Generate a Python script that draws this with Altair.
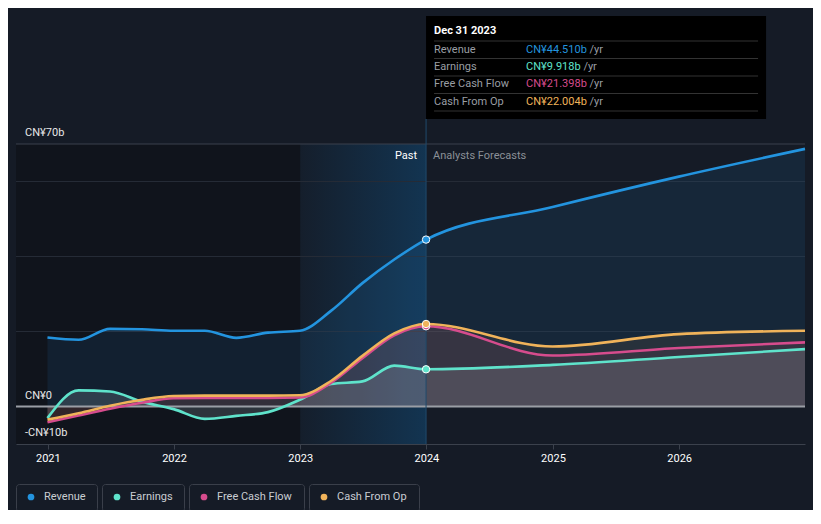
import altair as alt
import pandas as pd

# ---------------- data ----------------
DATES = ["2020-12-31", "2021-03-31", "2021-06-30", "2021-09-30", "2021-12-31",
         "2022-03-31", "2022-06-30", "2022-09-30", "2022-12-31", "2023-03-31",
         "2023-06-30", "2023-09-30", "2023-12-31", "2024-12-31", "2025-12-31",
         "2026-12-31"]
REVENUE = [18.4, 17.8, 20.7, 20.6, 20.2, 20.2, 18.3, 19.7, 20.2, 25.5, 32.9, 39.2,
           44.51, 53.2, 61.3, 68.7]
EARNINGS = [-3.1, 4.3, 4.0, 1.3, -0.7, -3.3, -2.5, -1.5, 1.8, 6.0, 6.7, 10.9,
            9.918, 11.1, 13.2, 15.3]
FCF = [-4.2, -2.4, -0.6, 1.0, 2.2, 2.3, 2.3, 2.3, 2.4, 6.3, 12.9, 19.0,
       21.398, 13.6, 15.6, 17.1]
CFO = [-3.5, -1.8, 0.2, 1.8, 2.8, 2.9, 2.9, 2.9, 3.0, 6.8, 13.5, 19.5,
       22.004, 16.0, 19.3, 20.2]

SERIES = ["Revenue", "Earnings", "Free Cash Flow", "Cash From Op"]
COLORS = ["#2394df", "#5fe3cb", "#d64c8d", "#f0b35a"]
AREA_COLORS = ["#2394df", "#c0d4dc", "#d64c8d", "#f0b35a"]
AREA_OPACITY = [0.10, 0.17, 0.09, 0.08]

HOVER_DATE = "2023-12-31"
HOVER_TITLE = "Dec 31 2023"
TIP_VALUES = ["CN¥44.510b", "CN¥9.918b", "CN¥21.398b", "CN¥22.004b"]
TIP_UNIT = "/yr"

Y_LABEL_VALUES = [70, 0, -10]
Y_LABELS = ["CN¥70b", "CN¥0", "-CN¥10b"]
GRID_VALUES = [20, 40, 60]

X_DOMAIN = ["2020-10-01", "2026-12-31"]
PAST_START = "2020-10-01"
HILITE_START = "2023-01-01"

# ---------------- layout / style ----------------
W, H = 789, 300
BG = "#151b26"
FONT = "Roboto"
LEGEND_BOX_X = [0, 86, 173, 293]
LEGEND_BOX_W = [81, 82, 115, 110]
CHAR_W = {"C": 7.2, "N": 7.8, "¥": 6.0, ".": 2.9, "b": 6.2}


def text_w(s):
    return sum(CHAR_W.get(ch, 6.18) for ch in s)


XS = alt.Scale(domain=X_DOMAIN)
XA = alt.Axis(format="%Y", tickCount={"interval": "year", "step": 1},
              labelColor="#ffffff", labelFontSize=11, labelFont=FONT,
              labelPadding=3, tickSize=5, tickColor="#3b414c",
              domainColor="#3b414c", grid=False, title=None, labelFlush=False)
YS = alt.Scale(domain=[-10, 70], nice=False, zero=False)


def X(field="d"):
    return alt.X(f"{field}:T", scale=XS, axis=XA)


def Y(field="v"):
    return alt.Y(f"{field}:Q", scale=YS, axis=None)


rows = []
for name, vals in zip(SERIES, [REVENUE, EARNINGS, FCF, CFO]):
    for d, v in zip(DATES, vals):
        rows.append({"d": d, "v": v, "s": name})
df = pd.DataFrame(rows)

layers = []

# background regions
regions = pd.DataFrame({"d": [PAST_START], "e": [HILITE_START]})
layers.append(alt.Chart(regions).mark_rect(color="#10141c").encode(
    x=X("d"), x2="e", y=alt.value(0), y2=alt.value(H)))
hil = pd.DataFrame({"d": [HILITE_START], "e": [HOVER_DATE]})
layers.append(alt.Chart(hil).mark_rect(color=alt.LinearGradient(
    gradient="linear", x1=0, x2=1, y1=0, y2=0,
    stops=[alt.GradientStop(color="rgba(17,69,110,0.08)", offset=0),
           alt.GradientStop(color="rgba(17,69,110,0.6)", offset=1)])).encode(
    x=X("d"), x2="e", y=alt.value(0), y2=alt.value(H)))

# grid
grid = pd.DataFrame({"v": GRID_VALUES})
layers.append(alt.Chart(grid).mark_rule(color="#252b36", strokeWidth=1).encode(y=Y()))
top = pd.DataFrame({"v": [70]})
layers.append(alt.Chart(top).mark_rule(color="#3b414c", strokeWidth=1).encode(y=Y()))

# areas
for name, c, op in zip(SERIES, AREA_COLORS, AREA_OPACITY):
    layers.append(alt.Chart(df).transform_filter(alt.datum.s == name).mark_area(
        interpolate="monotone", color=c, opacity=op).encode(
        x=X(), y=Y(), y2=alt.datum(0)))

# zero line
zero = pd.DataFrame({"v": [0]})
layers.append(alt.Chart(zero).mark_rule(color="#9a9ea5", strokeWidth=2).encode(y=Y()))

# lines
for name, c in zip(SERIES, COLORS):
    layers.append(alt.Chart(df).transform_filter(alt.datum.s == name).mark_line(
        interpolate="monotone", color=c, strokeWidth=2.6).encode(x=X(), y=Y()))

# hover vertical line
hv = pd.DataFrame({"d": [HOVER_DATE]})
layers.append(alt.Chart(hv).mark_rule(color="#1f4a6c", strokeWidth=1).encode(
    x=X(), y=alt.value(-25), y2=alt.value(H)))

# hover points
pts = df[df["d"] == HOVER_DATE]
for name, c in [(SERIES[0], COLORS[0]), (SERIES[1], COLORS[1]),
                (SERIES[2], COLORS[2]), (SERIES[3], COLORS[3])]:
    layers.append(alt.Chart(pts).transform_filter(alt.datum.s == name).mark_point(
        filled=True, size=55, fill=c, stroke="#ffffff", strokeWidth=1, opacity=1).encode(
        x=X(), y=Y()))

# Past / Analysts Forecasts
layers.append(alt.Chart(hv).mark_text(text="Past", align="right", baseline="middle",
                                      dx=-9, font=FONT, fontSize=11, color="#ffffff").encode(
    x=X(), y=alt.value(12)))
layers.append(alt.Chart(hv).mark_text(text="Analysts Forecasts", align="left", baseline="middle",
                                      dx=7, font=FONT, fontSize=11, color="#8b9097").encode(
    x=X(), y=alt.value(12)))

# y labels
ylab = pd.DataFrame({"v": Y_LABEL_VALUES, "t": Y_LABELS})
layers.append(alt.Chart(ylab).mark_text(align="left", baseline="bottom", dy=-6,
                                        font=FONT, fontSize=11, color="#e8e8e8").encode(
    x=alt.value(9), y=Y(), text="t:N"))

# tooltip box
layers.append(alt.Chart(hv).mark_rect(color="#000000", x2Offset=340).encode(
    x=X(), x2="d", y=alt.value(-128), y2=alt.value(-25)))
sep = pd.DataFrame({"d": [HOVER_DATE] * 5, "i": list(range(5))})
layers.append(alt.Chart(sep).transform_calculate(py="-103 + datum.i * 17.5").mark_rule(
    color="#333333", strokeWidth=1, xOffset=8, x2Offset=332).encode(
    x=X(), x2="d", y=alt.Y("py:Q", scale=None)))
layers.append(alt.Chart(hv).mark_text(text=HOVER_TITLE, align="left", baseline="middle",
                                      dx=8, font=FONT, fontSize=11, fontWeight="bold",
                                      color="#ffffff").encode(x=X(), y=alt.value(-113)))
for i, (name, val, c) in enumerate(zip(SERIES, TIP_VALUES, COLORS)):
    one = pd.DataFrame({"d": [HOVER_DATE], "label": [name], "val": [val], "u": [TIP_UNIT]})
    py = -94.5 + i * 17.4
    base = alt.Chart(one)
    layers.append(base.mark_text(align="left", baseline="middle", dx=8, font=FONT,
                                 fontSize=11, color="#9a9ea4").encode(
        x=X(), y=alt.value(py), text="label:N"))
    layers.append(base.mark_text(align="left", baseline="middle", dx=100, font=FONT,
                                 fontSize=11, color=c).encode(
        x=X(), y=alt.value(py), text="val:N"))
    layers.append(base.mark_text(align="left", baseline="middle",
                                 dx=100 + text_w(val) + 2.5, font=FONT,
                                 fontSize=11, color="#9a9ea4").encode(
        x=X(), y=alt.value(py), text="u:N"))

# legend
for name, c, bx, bw in zip(SERIES, COLORS, LEGEND_BOX_X, LEGEND_BOX_W):
    one = pd.DataFrame({"t": [name]})
    layers.append(alt.Chart(one).mark_rect(fill="transparent", stroke="#3a3f4a",
                                           strokeWidth=1, cornerRadius=3).encode(
        x=alt.value(bx + 0.5), x2=alt.value(bx + bw + 0.5),
        y=alt.value(340.5), y2=alt.value(367.5)))
    layers.append(alt.Chart(one).mark_point(filled=True, size=45, color=c, opacity=1).encode(
        x=alt.value(bx + 15), y=alt.value(353)))
    layers.append(alt.Chart(one).mark_text(align="left", baseline="middle", font=FONT,
                                           fontSize=11, color="#c9cdd2").encode(
        x=alt.value(bx + 28), y=alt.value(353), text="t:N"))

chart = alt.layer(*layers).properties(
    width=W, height=H,
    autosize=alt.AutoSizeParams(type="none"),
    padding={"left": 8, "top": 136, "right": 8, "bottom": 66},
    background=BG,
).configure_view(stroke=None)

chart.save("out.html", embed_options={"renderer": "svg", "actions": False})
